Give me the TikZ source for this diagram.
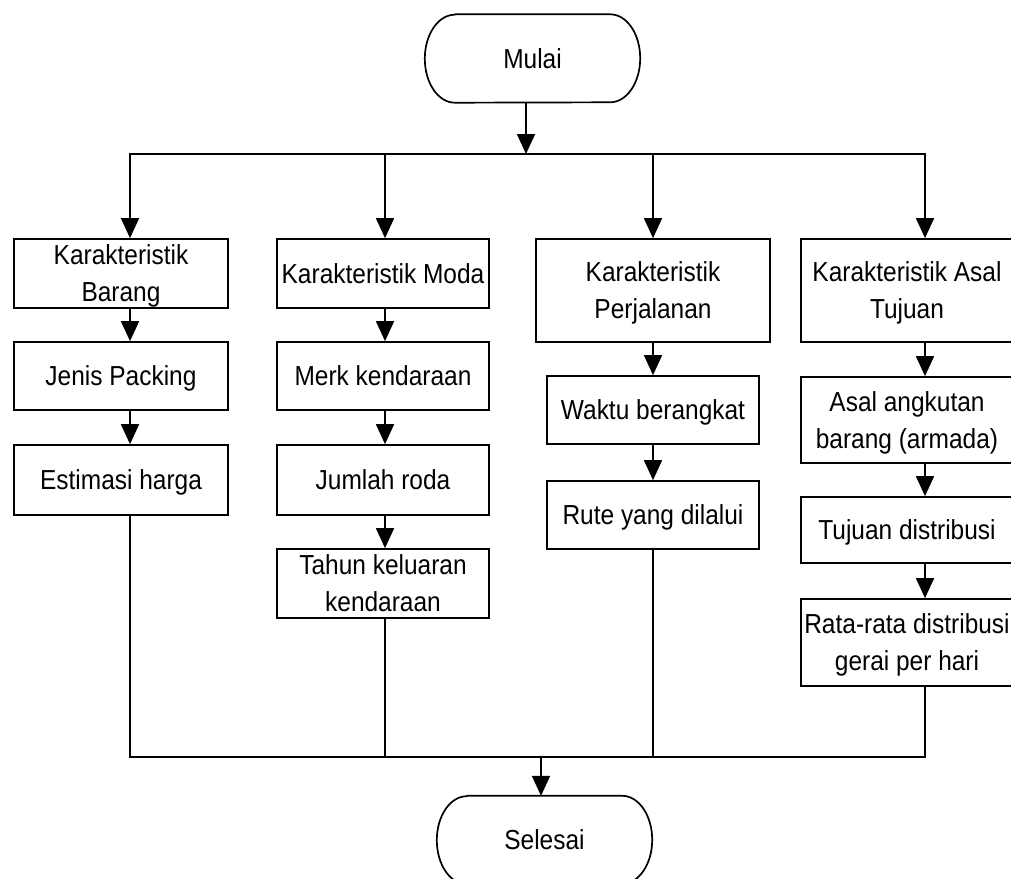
\documentclass[tikz,border=0pt]{standalone}
\usepackage{fontspec}
\setmainfont{Liberation Sans}[FakeStretch=0.89]
\usetikzlibrary{arrows.meta}
\begin{document}
\begin{tikzpicture}[x=1pt,y=-1pt,
  txt/.style={font=\fontsize{27.5}{37}\selectfont},
  box/.style={txt, draw, line width=1.7pt, align=center, inner sep=0pt, text depth=-2pt},
  term/.style={txt, inner sep=0pt, minimum width=215pt, minimum height=88pt},
  line/.style={line width=1.7pt, line cap=rect},
  arr/.style={line width=1.7pt, -{Triangle[length=20pt,width=18pt]}},
  outline/.style={line width=1.7pt, line join=round}
]
\useasboundingbox (0,0) rectangle (1011,878);
\clip (0,0) rectangle (1011,878);

% start and end terminators
\node[term] (mulai) at (532.5,58.5) {Mulai};
\node[term] (selesai) at (544.5,840) {Selesai};
\foreach \t in {mulai,selesai}{
  \draw[outline] ([xshift=30pt]\t.north west) -- ([xshift=-30pt]\t.north east)
    arc[start angle=90, end angle=-90, x radius=30pt, y radius=44pt]
    -- ([xshift=30pt]\t.south west)
    arc[start angle=270, end angle=90, x radius=30pt, y radius=44pt] -- cycle;
}

% column 1: Karakteristik Barang
\node[box, minimum width=214pt, minimum height=69pt] (c1a) at (121,273.5) {Karakteristik\\Barang};
\node[box, minimum width=214pt, minimum height=68pt] (c1b) at (121,376) {Jenis Packing};
\node[box, minimum width=214pt, minimum height=70pt] (c1c) at (121,480) {Estimasi harga};

% column 2: Karakteristik Moda
\node[box, minimum width=212pt, minimum height=69pt] (c2a) at (383,273.5) {Karakteristik Moda};
\node[box, minimum width=212pt, minimum height=68pt] (c2b) at (383,376) {Merk kendaraan};
\node[box, minimum width=212pt, minimum height=70pt] (c2c) at (383,480) {Jumlah roda};
\node[box, minimum width=212pt, minimum height=69pt] (c2d) at (383,583.5) {Tahun keluaran\\kendaraan};

% column 3: Karakteristik Perjalanan
\node[box, minimum width=234pt, minimum height=103pt] (c3a) at (653,290.5) {Karakteristik\\Perjalanan};
\node[box, minimum width=212pt, minimum height=68pt] (c3b) at (653,410) {Waktu berangkat};
\node[box, minimum width=212pt, minimum height=68pt] (c3c) at (653,515) {Rute yang dilalui};

% column 4: Karakteristik Asal Tujuan
\node[box, minimum width=212pt, minimum height=103pt] (c4a) at (907,290.5) {Karakteristik Asal\\Tujuan};
\node[box, minimum width=212pt, minimum height=86pt] (c4b) at (907,420) {Asal angkutan\\barang (armada)};
\node[box, minimum width=212pt, minimum height=66pt] (c4c) at (907,530) {Tujuan distribusi};
\node[box, minimum width=212pt, minimum height=87pt] (c4d) at (907,642.5) {Rata-rata distribusi\\gerai per hari};

% branch and merge bus points
\coordinate (k0) at (526,154);
\coordinate (k1) at (130,154);
\coordinate (k2) at (385,154);
\coordinate (k3) at (653,154);
\coordinate (k4) at (925,154);
\coordinate (b0) at (541,757);
\coordinate (b1) at (130,757);
\coordinate (b2) at (385,757);
\coordinate (b3) at (653,757);
\coordinate (b4) at (925,757);

% top branch
\draw[arr] (mulai.south -| k0) -- (k0);
\draw[line] (k1) -- (k4);
\draw[arr] (k1) -- (k1 |- c1a.north);
\draw[arr] (k2) -- (k2 |- c2a.north);
\draw[arr] (k3) -- (k3 |- c3a.north);
\draw[arr] (k4) -- (k4 |- c4a.north);

% chains inside each column
\draw[arr] (k1 |- c1a.south) -- (k1 |- c1b.north);
\draw[arr] (k1 |- c1b.south) -- (k1 |- c1c.north);
\draw[arr] (k2 |- c2a.south) -- (k2 |- c2b.north);
\draw[arr] (k2 |- c2b.south) -- (k2 |- c2c.north);
\draw[arr] (k2 |- c2c.south) -- (k2 |- c2d.north);
\draw[arr] (k3 |- c3a.south) -- (k3 |- c3b.north);
\draw[arr] (k3 |- c3b.south) -- (k3 |- c3c.north);
\draw[arr] (k4 |- c4a.south) -- (k4 |- c4b.north);
\draw[arr] (k4 |- c4b.south) -- (k4 |- c4c.north);
\draw[arr] (k4 |- c4c.south) -- (k4 |- c4d.north);

% bottom merge
\draw[line] (b1 |- c1c.south) -- (b1);
\draw[line] (b2 |- c2d.south) -- (b2);
\draw[line] (b3 |- c3c.south) -- (b3);
\draw[line] (b4 |- c4d.south) -- (b4);
\draw[line] (b1) -- (b4);
\draw[arr] (b0) -- (b0 |- selesai.north);
\end{tikzpicture}
\end{document}
